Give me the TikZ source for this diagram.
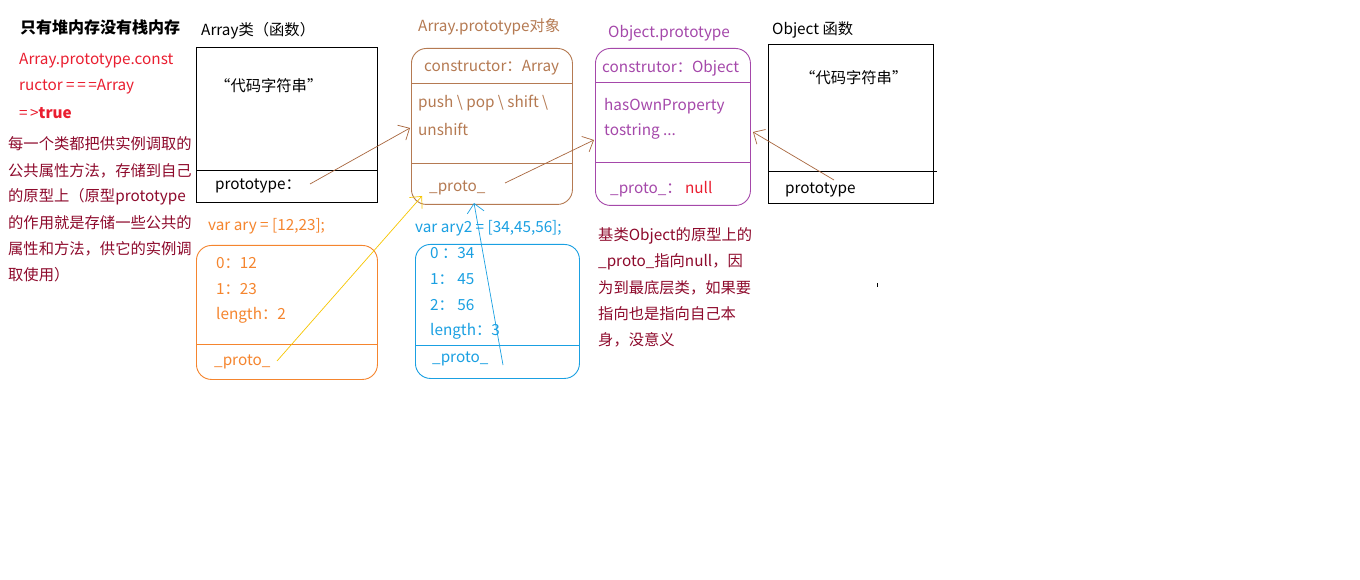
\documentclass[tikz,border=0pt]{standalone}
\usepackage{fontspec}
\setmainfont{Noto Sans CJK SC}
\usetikzlibrary{arrows.meta}
\definecolor{brn}{HTML}{B57A52}
\definecolor{brnline}{HTML}{A8663E}
\definecolor{purp}{HTML}{A548AA}
\definecolor{orng}{HTML}{F5852E}
\definecolor{blu}{HTML}{1AA0E2}
\definecolor{yel}{HTML}{F7C600}
\definecolor{redt}{HTML}{EA1E30}
\definecolor{dred}{HTML}{8E0A2C}
\tikzset{
  txt/.style={anchor=west,inner sep=0pt,font=\fontsize{15.3}{18}\selectfont},
  box/.style={draw,anchor=north west,inner sep=0pt,line width=0.9pt},
  rbox/.style={box,rounded corners=15pt},
  arr/.style={-{Straight Barb[length=9pt,width=17pt,line width=0.7pt]},line width=0.7pt},
}
\begin{document}
\begin{tikzpicture}[x=1pt,y=-1pt]
\useasboundingbox[fill=white] (0,0) rectangle (1360,580);

% left notes
\node[txt,font=\fontsize{16}{18}\selectfont\bfseries] (title) at (20,27) {只有堆内存没有栈内存};
\node[txt,text=redt] (r1) at (19,61) {Array.prototype.const};
\node[txt,text=redt] (r2) at (19,87) {ructor =\,=\,=Array};
\node[txt,text=redt] (r3) at (19,113) {=\,>\textbf{true}};
\node[txt,text=dred] (d1) at (8,144) {每一个类都把供实例调取的};
\node[txt,text=dred] (d2) at (8,171) {公共属性方法，存储到自己};
\node[txt,text=dred] (d3) at (8,197) {的原型上（原型prototype};
\node[txt,text=dred] (d4) at (8,223) {的作用就是存储一些公共的};
\node[txt,text=dred] (d5) at (8,249) {属性和方法，供它的实例调};
\node[txt,text=dred] (d6) at (8,275) {取使用）};

% Array function box
\node[txt] (arrlab) at (201,31) {Array类（函数）};
\node[box,minimum width=181pt,minimum height=155pt] (arrbox) at (196,47) {};
\draw[line width=0.9pt] (196,170) -- (377,170);
\node[txt] (arrcode) at (215,86) {“代码字符串”};
\node[txt] (arrproto) at (215,186) {prototype：};
\coordinate (arrprotoend) at (310,184);

% Array.prototype object
\node[txt,text=brn] (aplab) at (418,27) {Array.prototype对象};
\node[rbox,draw=brn,minimum width=161pt,minimum height=156pt] (apbox) at (411,48) {};
\draw[brn,line width=0.9pt] (411,83) -- (572,83);
\draw[brn,line width=0.9pt] (411,163) -- (572,163);
\node[txt,text=brn] (apc) at (424,68) {constructor：Array};
\node[txt,text=brn] (apm1) at (418,103) {push \textbackslash{} pop \textbackslash{} shift \textbackslash};
\node[txt,text=brn] (apm2) at (418,129) {unshift};
\node[txt,text=brn] (approto) at (429,188) {\_proto\_};
\coordinate (apin) at (410,128);
\coordinate (approtoend) at (505,183);
\coordinate (apyin) at (422,196);
\coordinate (apbin) at (474,203);

% Object.prototype
\node[txt,text=purp] (oplab) at (608,33) {Object.prototype};
\node[rbox,draw=purp,minimum width=155pt,minimum height=157pt] (opbox) at (595,48) {};
\draw[purp,line width=0.9pt] (595,82) -- (750,82);
\draw[purp,line width=0.9pt] (595,162) -- (750,162);
\node[txt,text=purp] (opc) at (602,68) {construtor：Object};
\node[txt,text=purp] (opm1) at (604,106) {hasOwnProperty};
\node[txt,text=purp] (opm2) at (604,131) {tostring ...};
\node[txt,text=purp] (opproto) at (610,189) {\_proto\_：\ \textcolor{redt}{null}};
\coordinate (opin) at (594,140);
\coordinate (opin2) at (753,132);

% Object function
\node[txt] (oflab) at (772,30) {Object 函数};
\node[box,minimum width=165pt,minimum height=159pt] (ofbox) at (768,44) {};
\draw[line width=0.9pt] (768,171) -- (937,171);
\node[txt] (ofcode) at (800,78) {“代码字符串”};
\node[txt] (ofproto) at (785,190) {prototype};
\coordinate (ofprotoend) at (834,180);

% ary
\node[txt,text=orng] (arylab) at (208,226) {var ary = [12,23];};
\node[rbox,draw=orng,minimum width=181pt,minimum height=134pt] (arybox) at (196,245) {};
\draw[orng,line width=0.9pt] (196,344) -- (377,344);
\node[txt,text=orng] (a0) at (216,263) {0：12};
\node[txt,text=orng] (a1) at (216,289) {1：23};
\node[txt,text=orng] (al) at (216,315) {length：2};
\node[txt,text=orng] (aproto) at (214,362) {\_proto\_};
\coordinate (aprotoend) at (277,361);

% ary2
\node[txt,text=blu] (ary2lab) at (415,228) {var ary2 = [34,45,56];};
\node[rbox,draw=blu,minimum width=164pt,minimum height=134pt] (ary2box) at (415,244) {};
\draw[blu,line width=0.9pt] (415,345) -- (579,345);
\node[txt,text=blu] (b0) at (430,253) {0 ：34};
\node[txt,text=blu] (b1) at (430,279) {1： 45};
\node[txt,text=blu] (b2) at (430,305) {2： 56};
\node[txt,text=blu] (bl) at (430,331) {length：3};
\node[txt,text=blu] (bproto) at (432,359) {\_proto\_};
\coordinate (bprotoend) at (503,365);

% note
\node[txt,text=dred] (n1) at (598,236) {基类Object的原型上的};
\node[txt,text=dred] (n2) at (598,262) {\_proto\_指向null，因};
\node[txt,text=dred] (n3) at (598,288) {为到最底层类，如果要};
\node[txt,text=dred] (n4) at (598,314) {指向也是指向自己本};
\node[txt,text=dred] (n5) at (598,340) {身，没意义};
\fill (877,283) rectangle (878,287);

% arrows
\draw[arr,brnline] (arrprotoend) -- (apin);
\draw[arr,brnline] (approtoend) -- (opin);
\draw[arr,brnline] (ofprotoend) -- (opin2);
\draw[arr,yel] (aprotoend) -- (apyin);
\draw[arr,blu] (bprotoend) -- (apbin);
\end{tikzpicture}
\end{document}
